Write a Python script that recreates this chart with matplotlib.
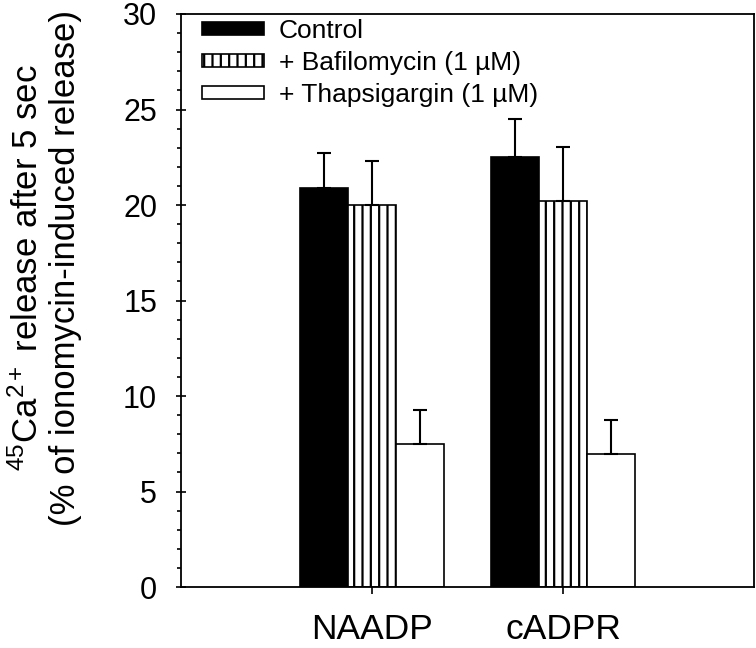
import numpy as np
import matplotlib
matplotlib.use("Agg")
import matplotlib.pyplot as plt
from matplotlib.ticker import MultipleLocator

plt.rcParams['font.family'] = ['Liberation Sans', 'DejaVu Sans']
plt.rcParams['mathtext.fontset'] = 'custom'
plt.rcParams['mathtext.rm'] = 'Liberation Sans'
plt.rcParams['mathtext.it'] = 'Liberation Sans'
plt.rcParams['hatch.linewidth'] = 1.6

# data
groups = ['NAADP', 'cADPR']
series = ['Control', '+ Bafilomycin (1 \u00b5M)', '+ Thapsigargin (1 \u00b5M)']
control = [20.9, 22.5]
control_err = [1.8, 2.0]
bafilo = [20.0, 20.2]
bafilo_err = [2.3, 2.85]
thapsi = [7.5, 6.95]
thapsi_err = [1.75, 1.8]

fig = plt.figure(figsize=(7.56, 6.48), dpi=100)
ax = fig.add_axes([0.2394, 0.0941, 0.7580, 0.8843])

x = np.arange(1, len(groups) + 1)
w = 0.25
ekw = dict(elinewidth=1.5, capthick=1.5)
ax.bar(x - w, control, w, color='black', edgecolor='black', linewidth=1.2,
       yerr=[[0, 0], control_err], capsize=5, error_kw=ekw, label=series[0])
ax.bar(x, bafilo, w, color='white', edgecolor='black', linewidth=1.2, hatch='||',
       yerr=[[0, 0], bafilo_err], capsize=5, error_kw=ekw, label=series[1])
ax.bar(x + w, thapsi, w, color='white', edgecolor='black', linewidth=1.2,
       yerr=[[0, 0], thapsi_err], capsize=5, error_kw=ekw, label=series[2])

ax.set_xlim(0, 3)
ax.set_ylim(0, 30)
ax.set_xticks(x)
ax.set_xticklabels(groups, fontsize=25.5)
ax.yaxis.set_major_locator(MultipleLocator(5))
ax.yaxis.set_minor_locator(MultipleLocator(1))
ax.tick_params(axis='y', which='major', direction='inout', length=6.5, width=1.2,
               labelsize=22, pad=14)
ax.tick_params(axis='y', which='minor', length=3, width=1.2)
ax.tick_params(axis='x', length=5, width=1.2, pad=14)
for s in ax.spines.values():
    s.set_linewidth(1.3)

ax.set_ylabel('$^{45}$Ca$^{2+}$ release after 5 sec\n(% of ionomycin-induced release)',
              fontsize=25, linespacing=1.15)
ax.yaxis.set_label_coords(-0.173, 0.557)

ax.legend(loc='upper left', frameon=False, fontsize=19, handlelength=2.35,
          handleheight=0.38, borderpad=0, borderaxespad=0, labelspacing=0.3,
          handletextpad=0.57, bbox_to_anchor=(0.036, 0.991))

fig.savefig('out.png', dpi=100)
